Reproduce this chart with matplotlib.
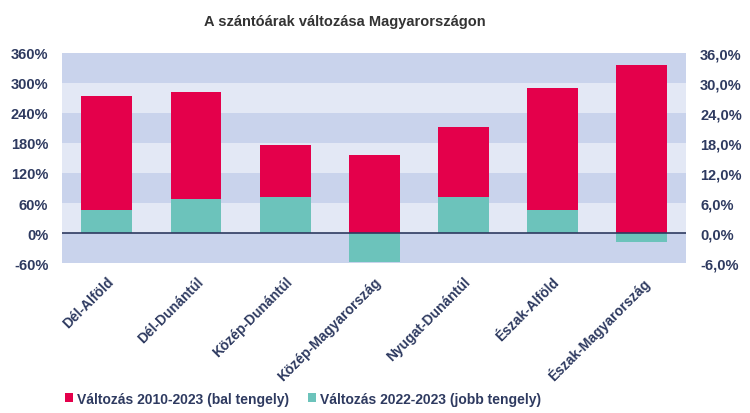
import matplotlib.pyplot as plt
import numpy as np

plt.rcParams['font.family'] = ['Liberation Sans', 'DejaVu Sans']

regions = ['Dél-Alföld', 'Dél-Dunántúl', 'Közép-Dunántúl', 'Közép-Magyarország',
           'Nyugat-Dunántúl', 'Észak-Alföld', 'Észak-Magyarország']
change_2010_2023 = [274, 282, 176, 156, 212, 290, 336]   # left axis, %
change_2022_2023 = [4.6, 6.8, 7.2, -5.8, 7.2, 4.6, -1.8]  # right axis, %

left_ticks = [-60, 0, 60, 120, 180, 240, 300, 360]
right_ticks = [-6, 0, 6, 12, 18, 24, 30, 36]

red = '#E4004B'
teal = '#6CC3BB'
navy = '#2E3A60'
band_dark = '#C9D3EC'
band_light = '#E3E8F5'

fig = plt.figure(figsize=(7.5, 4.14), dpi=100)
ax = fig.add_axes([0.083, 0.362, 0.832, 0.508])
ax2 = ax.twinx()

x = np.arange(len(regions))
w = 0.57

# alternating background bands
for i in range(len(left_ticks) - 1):
    ax.axhspan(left_ticks[i], left_ticks[i + 1], color=band_dark if i % 2 == 0 else band_light,
               lw=0, zorder=0)

ax.bar(x, change_2010_2023, w, color=red, zorder=2, label='Változás 2010-2023 (bal tengely)')
ax2.bar(x, change_2022_2023, w, color=teal, zorder=2, label='Változás 2022-2023 (jobb tengely)')
ax2.axhline(0, color=navy, lw=1.2, zorder=3)

ax.set_xlim(-0.5, len(regions) - 0.5)
ax.set_ylim(-60, 360)
ax2.set_ylim(-6, 36)
ax.set_yticks(left_ticks)
ax.set_yticklabels([f'{t}%' for t in left_ticks])
ax2.set_yticks(right_ticks)
ax2.set_yticklabels([f'{t},0%' for t in right_ticks])
ax.set_xticks(x)
ax.set_xticklabels(regions, rotation=45, ha='right', rotation_mode='anchor')

for a in (ax, ax2):
    for s in a.spines.values():
        s.set_visible(False)
    a.tick_params(length=0, labelsize=10.5, labelcolor=navy)
    for lab in a.get_yticklabels() + a.get_xticklabels():
        lab.set_fontweight('bold')
ax.tick_params(axis='y', pad=10)
ax2.tick_params(axis='y', pad=10)
ax.tick_params(axis='x', pad=8, labelsize=10)

fig.text(0.46, 0.948, 'A szántóárak változása Magyarországon', ha='center', va='center',
         fontsize=10.5, fontweight='bold', color='#333333')

h1, l1 = ax.get_legend_handles_labels()
h2, l2 = ax2.get_legend_handles_labels()
fig.legend(h1 + h2, l1 + l2, loc='center left', bbox_to_anchor=(0.07, 0.035), ncol=2,
           frameon=False, handlelength=0.55, handleheight=0.55, handletextpad=0.3,
           columnspacing=1.4, prop={'weight': 'bold', 'size': 10}, labelcolor=navy)

fig.savefig('out.png', dpi=100)
